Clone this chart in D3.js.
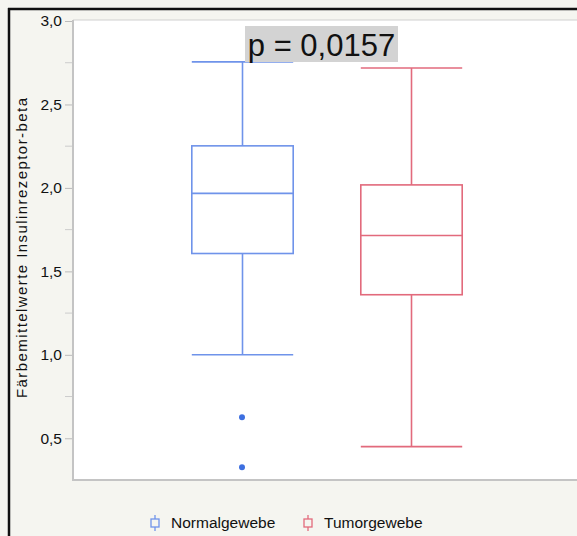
<!DOCTYPE html>
<html lang="de">
<head>
<meta charset="UTF-8">
<title>Boxplot Insulinrezeptor-beta</title>
<script src="https://d3js.org/d3.v7.min.js"></script>
<style>
    body { margin: 0; background: #fff; }
    svg { display: block; }
    text { font-family: "Liberation Sans", Arial, sans-serif; }
</style>
</head>
<body>
<script>
    // data
    const groups = ["Normalgewebe", "Tumorgewebe"]
    const colors = ["#6f93ea", "#e26a7c"]
    const whiskerLow = [1.00, 0.45]
    const q1 = [1.607, 1.36]
    const median = [1.967, 1.715]
    const q3 = [2.252, 2.018]
    const whiskerHigh = [2.755, 2.718]
    const outliers = [[0.626, 0.326], []]
    const yTicks = [0.5, 1.0, 1.5, 2.0, 2.5, 3.0]
    const yMinor = [0.75, 1.25, 1.75, 2.25, 2.75]
    const pLabel = "p = 0,0157"
    const yLabel = "Färbemittelwerte Insulinrezeptor-beta"

    const width = 577, height = 536
    const svg = d3.select("body").append("svg")
        .attr("width", width).attr("height", height)

    // background and frame
    svg.append("rect").attr("width", width).attr("height", height).attr("fill", "#f5f5f0")
    svg.append("line").attr("x1", 8).attr("x2", width).attr("y1", 9).attr("y2", 9)
        .attr("stroke", "#111").attr("stroke-width", 2.5)
    svg.append("line").attr("x1", 9).attr("x2", 9).attr("y1", 8).attr("y2", height)
        .attr("stroke", "#111").attr("stroke-width", 2.5)

    const plotLeft = 73, plotTop = 20, plotBottom = 480
    const y = d3.scaleLinear().domain([0.25, 3.0]).range([plotBottom, 21])
    const x = d3.scaleBand().domain(groups).range([158, 496]).paddingInner(0.4).paddingOuter(0.2)

    svg.append("rect").attr("x", plotLeft).attr("y", plotTop)
        .attr("width", width - plotLeft).attr("height", plotBottom - plotTop)
        .attr("fill", "#fff")
    svg.append("line").attr("x1", plotLeft).attr("x2", width).attr("y1", plotTop).attr("y2", plotTop)
        .attr("stroke", "#d0d0d0").attr("stroke-width", 1)
    svg.append("line").attr("x1", plotLeft).attr("x2", width).attr("y1", plotBottom).attr("y2", plotBottom)
        .attr("stroke", "#c4c4c4").attr("stroke-width", 2)
    svg.append("line").attr("x1", plotLeft).attr("x2", plotLeft).attr("y1", plotTop).attr("y2", plotBottom + 1)
        .attr("stroke", "#c4c4c4").attr("stroke-width", 2)

    // y axis
    const gy = svg.append("g").attr("transform", `translate(${plotLeft - 1},0)`)
    gy.call(d3.axisLeft(y).tickValues(yTicks).tickSize(7).tickPadding(3)
        .tickFormat(d => d3.format(".1f")(d).replace(".", ",")))
    gy.select(".domain").remove()
    gy.selectAll(".tick line").attr("stroke", "#bbb")
    gy.selectAll(".tick text").attr("font-size", 15.5).attr("fill", "#111")
        .attr("font-family", "'Liberation Sans', Arial, sans-serif")
    gy.selectAll(".minor").data(yMinor).enter().append("line")
        .attr("x1", -7).attr("x2", 0).attr("y1", d => y(d)).attr("y2", d => y(d))
        .attr("stroke", "#ccc")

    svg.append("text")
        .attr("transform", `translate(27,${(plotTop + plotBottom) / 2 - 2}) rotate(-90)`)
        .attr("text-anchor", "middle").attr("font-size", 15).attr("fill", "#111")
        .attr("textLength", 300).attr("lengthAdjust", "spacing")
        .text(yLabel)

    // boxes
    groups.forEach((g, i) => {
        const x0 = x(g), bw = x.bandwidth(), cx = x0 + bw / 2
        const box = svg.append("g").attr("stroke", colors[i]).attr("stroke-width", 1.6).attr("fill", "none")
        box.append("line").attr("x1", cx).attr("x2", cx).attr("y1", y(whiskerHigh[i])).attr("y2", y(q3[i]))
        box.append("line").attr("x1", cx).attr("x2", cx).attr("y1", y(q1[i])).attr("y2", y(whiskerLow[i]))
        box.append("line").attr("x1", x0).attr("x2", x0 + bw).attr("y1", y(whiskerHigh[i])).attr("y2", y(whiskerHigh[i]))
        box.append("line").attr("x1", x0).attr("x2", x0 + bw).attr("y1", y(whiskerLow[i])).attr("y2", y(whiskerLow[i]))
        box.append("rect").attr("x", x0).attr("y", y(q3[i])).attr("width", bw).attr("height", y(q1[i]) - y(q3[i]))
        box.append("line").attr("x1", x0).attr("x2", x0 + bw).attr("y1", y(median[i])).attr("y2", y(median[i]))
        svg.selectAll(null).data(outliers[i]).enter().append("circle")
            .attr("cx", cx - 0.5).attr("cy", d => y(d)).attr("r", 3)
            .attr("fill", "#3d6fe0")
    })

    // p value label
    const pg = svg.append("g")
    pg.append("rect").attr("x", 245).attr("y", 26).attr("width", 153).attr("height", 36).attr("fill", "#d3d3d3")
    pg.append("text").attr("x", 321.5).attr("y", 56).attr("text-anchor", "middle")
        .attr("font-size", 31).attr("fill", "#111").text(pLabel)

    // legend
    const legX = [151, 304]
    groups.forEach((g, i) => {
        const lg = svg.append("g").attr("transform", `translate(${legX[i]},0)`)
        lg.append("line").attr("x1", 4).attr("x2", 4).attr("y1", 515).attr("y2", 531)
            .attr("stroke", colors[i]).attr("stroke-width", 1.3)
        lg.append("rect").attr("x", 0).attr("y", 519).attr("width", 8).attr("height", 8)
            .attr("fill", "#f5f5f0").attr("stroke", colors[i]).attr("stroke-width", 1.3)
        lg.append("text").attr("x", 20).attr("y", 528).attr("font-size", 15.5).attr("fill", "#111").text(g)
    })
</script>
</body>
</html>
